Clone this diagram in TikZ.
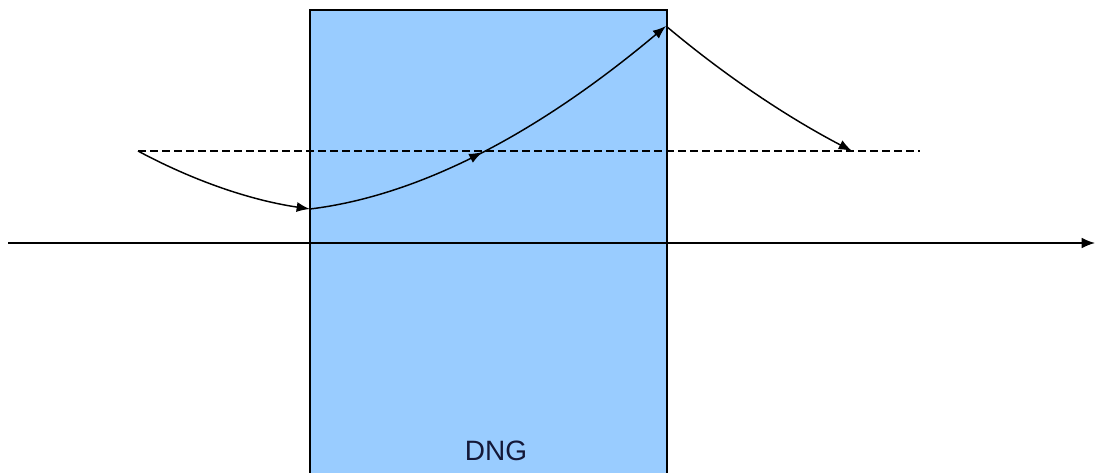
\documentclass[tikz,border=0pt]{standalone}
\usepackage{fontspec}
\setmainfont{Liberation Sans}
\usetikzlibrary{arrows.meta,decorations.markings}
\definecolor{dngblue}{HTML}{99CCFF}
\definecolor{dngtext}{HTML}{141838}
\tikzset{
  ray/.style={line width=1.1pt,-{Latex[length=10pt,width=7.5pt]}},
  midarrow/.style={decoration={markings,mark=at position #1 with {\arrow{Latex[length=10pt,width=7.5pt]}}},postaction={decorate}},
  axis/.style={line width=1.1pt,-{Latex[length=10pt,width=8pt]}},
  refline/.style={line width=1pt,dash pattern=on 6pt off 3pt},
  slab/.style={draw=black,line width=0.9pt,fill=dngblue}
}
\begin{document}
\begin{tikzpicture}[x=0.75pt,y=-0.75pt]
\useasboundingbox (0,0) rectangle (1097,472);
\fill[white] (0,0) rectangle (1097,472);
\draw[slab] (310,10) rectangle (667,476);
\node[text=dngtext,font=\fontsize{21}{24}\selectfont] (lbl) at (496,451) {DNG};
\coordinate (s) at (138,151);
\coordinate (e) at (920,151);
\coordinate (a) at (310,209);
\coordinate (b) at (666,26);
\coordinate (c) at (852,151);
\coordinate (ax0) at (8,243);
\coordinate (ax1) at (1095,243);
\draw[axis] (ax0) -- (ax1);
\draw[refline] (s) -- (e);
\draw[ray] (s) .. controls (192,180) and (249,200) .. (a);
\draw[ray,midarrow=0.45] (a) .. controls (417,196) and (535,136) .. (b);
\draw[ray] (b) .. controls (723,74) and (785,116) .. (c);
\end{tikzpicture}
\end{document}
